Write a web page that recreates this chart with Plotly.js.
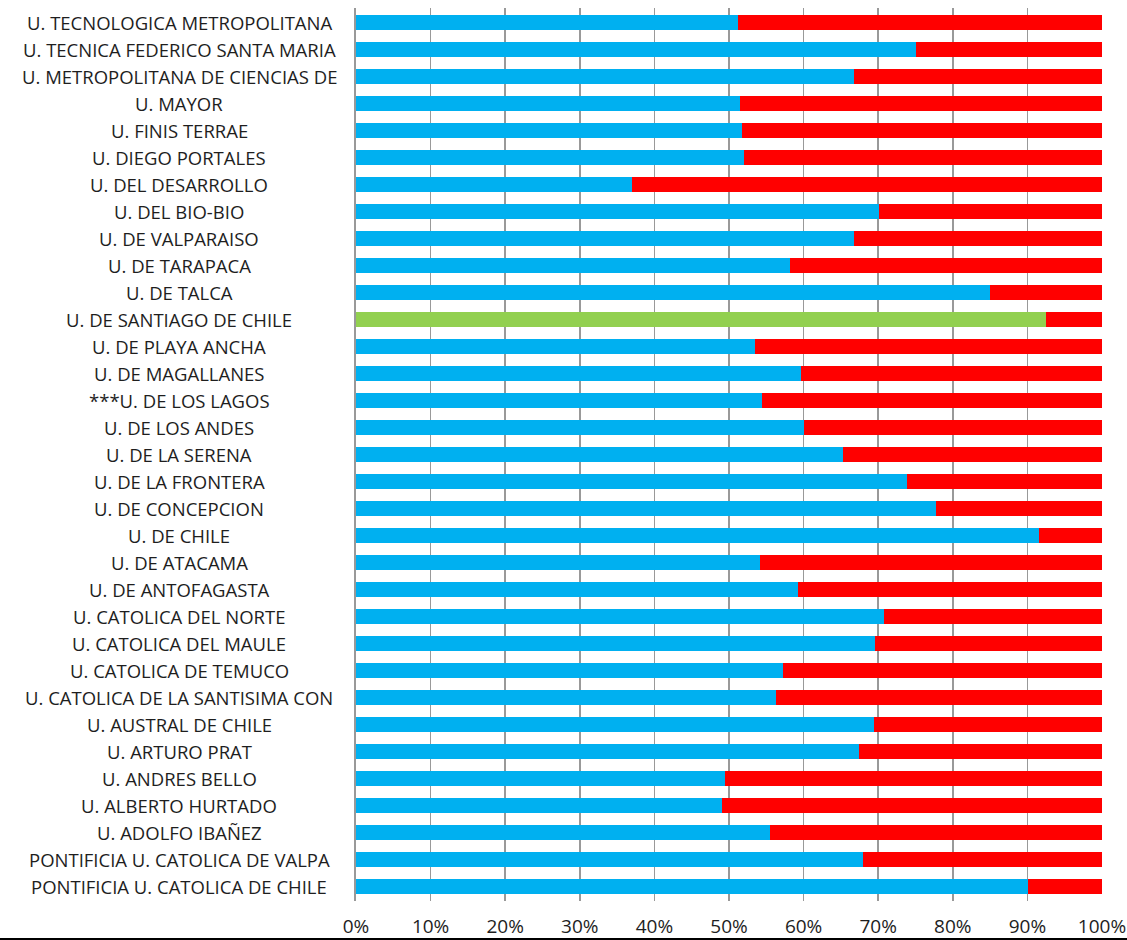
<!DOCTYPE html>
<html>
<head>
<meta charset="utf-8">
<script src="https://cdn.plot.ly/plotly-3.0.1.min.js"></script>
<style>
  html, body { margin: 0; padding: 0; background: #fff; overflow: hidden; }
  #wrap { position: relative; width: 1127px; height: 940px; }
  #chart { width: 1127px; height: 940px; }
  #edge { position: absolute; left: 0; top: 938px; width: 1127px; height: 2px; background: #000; }
</style>
</head>
<body>
<div id="wrap"><div id="chart"></div><div id="edge"></div></div>
<script>
const categories = [
  "U. TECNOLOGICA METROPOLITANA",
  "U. TECNICA FEDERICO SANTA MARIA",
  "U. METROPOLITANA DE CIENCIAS DE",
  "U. MAYOR",
  "U. FINIS TERRAE",
  "U. DIEGO PORTALES",
  "U. DEL DESARROLLO",
  "U. DEL BIO-BIO",
  "U. DE VALPARAISO",
  "U. DE TARAPACA",
  "U. DE TALCA",
  "U. DE SANTIAGO DE CHILE",
  "U. DE PLAYA ANCHA",
  "U. DE MAGALLANES",
  "***U. DE LOS LAGOS",
  "U. DE LOS ANDES",
  "U. DE LA SERENA",
  "U. DE LA FRONTERA",
  "U. DE CONCEPCION",
  "U. DE CHILE",
  "U. DE ATACAMA",
  "U. DE ANTOFAGASTA",
  "U. CATOLICA DEL NORTE",
  "U. CATOLICA DEL MAULE",
  "U. CATOLICA DE TEMUCO",
  "U. CATOLICA DE LA SANTISIMA CON",
  "U. AUSTRAL DE CHILE",
  "U. ARTURO PRAT",
  "U. ANDRES BELLO",
  "U. ALBERTO HURTADO",
  "U. ADOLFO IBAÑEZ",
  "PONTIFICIA U. CATOLICA DE VALPA",
  "PONTIFICIA U. CATOLICA DE CHILE"
];

const firstShare = [
  51.2, 75.0, 66.8, 51.5, 51.8, 52.0, 37.0, 70.1, 66.8, 58.2,
  85.0, 92.5, 53.5, 59.7, 54.4, 60.0, 65.3, 73.9, 77.7, 91.5,
  54.2, 59.2, 70.8, 69.6, 57.2, 56.3, 69.4, 67.4, 49.5, 49.1,
  55.5, 67.9, 90.1
];

const secondShare = [
  48.8, 25.0, 33.2, 48.5, 48.2, 48.0, 63.0, 29.9, 33.2, 41.8,
  15.0, 7.5, 46.5, 40.3, 45.6, 40.0, 34.7, 26.1, 22.3, 8.5,
  45.8, 40.8, 29.2, 30.4, 42.8, 43.7, 30.6, 32.6, 50.5, 50.9,
  44.5, 32.1, 9.9
];

const highlighted = "U. DE SANTIAGO DE CHILE";
const xTickValues = [0, 10, 20, 30, 40, 50, 60, 70, 80, 90, 100];
const xTickLabels = ["0%", "10%", "20%", "30%", "40%", "50%", "60%", "70%", "80%", "90%", "100%"];

const BLUE = "#00B0F0", RED = "#FF0000", GREEN = "#92D050";
const firstColors = categories.map(c => c === highlighted ? GREEN : BLUE);

const traces = [
  { type: "bar", orientation: "h", y: categories, x: firstShare,
    marker: { color: firstColors, line: { width: 0 } }, hoverinfo: "x+y" },
  { type: "bar", orientation: "h", y: categories, x: secondShare,
    marker: { color: RED, line: { width: 0 } }, hoverinfo: "x+y" }
];

const annotations = categories.map(c => ({
  xref: "paper", yref: "y", x: -0.2367, y: c, text: c,
  xanchor: "center", yanchor: "middle", showarrow: false,
  font: { family: "Open Sans, sans-serif", size: 18.5, color: "#1e1e1e" }
}));

const layout = {
  width: 1127, height: 940,
  margin: { l: 356, r: 25, t: 8, b: 39, pad: 0 },
  paper_bgcolor: "#fff", plot_bgcolor: "#fff",
  barmode: "stack", bargap: 0.42,
  showlegend: false,
  xaxis: {
    range: [0, 100], tickvals: xTickValues, ticktext: xTickLabels,
    showgrid: true, gridcolor: "#999", gridwidth: 1.5,
    zeroline: false, showline: false, ticks: "",
    ticklabelstandoff: 12,
    tickfont: { family: "Open Sans, sans-serif", size: 19, color: "#1e1e1e" },
    fixedrange: true
  },
  yaxis: {
    type: "category", autorange: "reversed",
    showticklabels: false, showgrid: false, zeroline: false,
    showline: true, linecolor: "#999", linewidth: 2, ticks: "",
    fixedrange: true
  },
  annotations: annotations
};

Plotly.newPlot("chart", traces, layout, { displayModeBar: false, staticPlot: true });
</script>
</body>
</html>
